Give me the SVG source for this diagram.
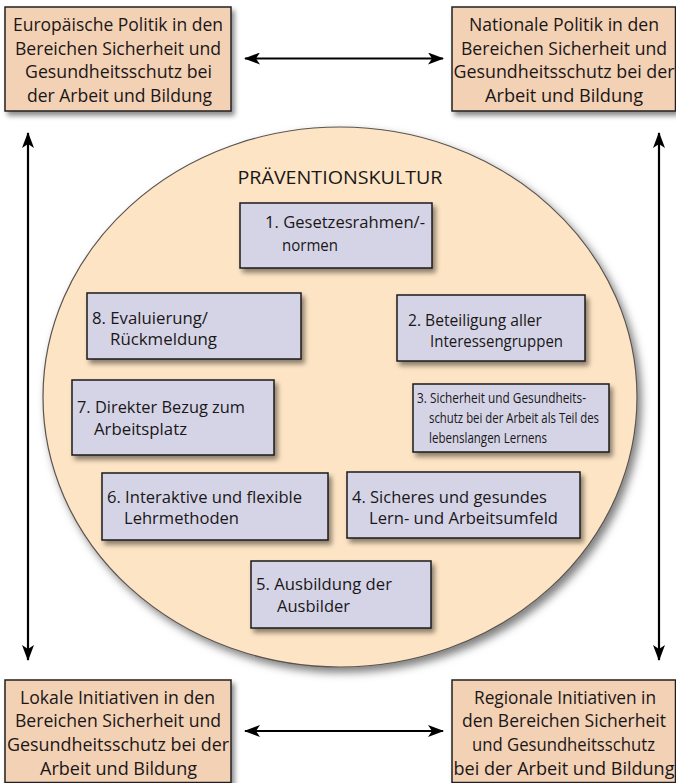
<svg xmlns="http://www.w3.org/2000/svg" width="676" height="783" viewBox="0 0 676 783">
<defs>
<style>
.outer{fill:#F3D1B5;stroke:#231f20;stroke-width:1.5}
.inner{fill:#D5D4E6;stroke:#1a1a1a;stroke-width:1.5}
.circ{fill:#FDE4C4;stroke:#5a5450;stroke-width:1.2}
.ot{font-family:"Open Sans","Liberation Sans",sans-serif;font-size:18px;fill:#1a1718}
.it{font-family:"Open Sans","Liberation Sans",sans-serif;font-size:17px;fill:#1a1718}
.st{font-family:"Open Sans","Liberation Sans",sans-serif;font-size:14.5px;fill:#1a1718}
.title{font-family:"Open Sans","Liberation Sans",sans-serif;font-size:19px;fill:#1a1718}
.conn{stroke:#000;stroke-width:2.2;fill:none;marker-start:url(#ah);marker-end:url(#ah)}
</style>
<filter id="sh" x="-10%" y="-10%" width="130%" height="140%">
<feDropShadow dx="3" dy="4" stdDeviation="2.5" flood-color="#000" flood-opacity="0.45"/>
</filter>
<filter id="shc" x="-10%" y="-10%" width="125%" height="125%">
<feDropShadow dx="4" dy="5" stdDeviation="4" flood-color="#000" flood-opacity="0.5"/>
</filter>
<marker id="ah" markerUnits="userSpaceOnUse" viewBox="0 0 16 12" markerWidth="16" markerHeight="12" refX="15" refY="6" orient="auto-start-reverse">
<path d="M0,0 L16,6 L0,12 L4,6 Z" fill="#000"/>
</marker>
</defs>

<g id="culture-circle">
<ellipse class="circ" cx="340" cy="397" rx="297" ry="270" filter="url(#shc)"/>
<text class="title" x="340" y="184" text-anchor="middle" textLength="205" lengthAdjust="spacingAndGlyphs">PRÄVENTIONSKULTUR</text>
</g>

<g id="connectors">
<line class="conn" x1="245" y1="58.5" x2="443" y2="58.5"/>
<line class="conn" x1="245" y1="731" x2="443" y2="731"/>
<line class="conn" x1="28" y1="133" x2="28" y2="660"/>
<line class="conn" x1="659" y1="133" x2="659" y2="660"/>
</g>

<g id="eu-policy">
<rect class="outer" x="5" y="7" width="226" height="104" filter="url(#sh)"/>
<text class="ot" x="13" y="31" textLength="210" lengthAdjust="spacingAndGlyphs">Europäische Politik in den</text>
<text class="ot" x="15" y="55" textLength="206" lengthAdjust="spacingAndGlyphs">Bereichen Sicherheit und</text>
<text class="ot" x="25" y="78" textLength="187" lengthAdjust="spacingAndGlyphs">Gesundheitsschutz bei</text>
<text class="ot" x="27" y="102" textLength="185" lengthAdjust="spacingAndGlyphs">der Arbeit und Bildung</text>
</g>

<g id="national-policy">
<rect class="outer" x="452" y="7" width="223.5" height="104" filter="url(#sh)"/>
<text class="ot" x="469" y="31" textLength="190" lengthAdjust="spacingAndGlyphs">Nationale Politik in den</text>
<text class="ot" x="461" y="55" textLength="206" lengthAdjust="spacingAndGlyphs">Bereichen Sicherheit und</text>
<text class="ot" x="453.5" y="78" textLength="221" lengthAdjust="spacingAndGlyphs">Gesundheitsschutz bei der</text>
<text class="ot" x="485" y="102" textLength="158" lengthAdjust="spacingAndGlyphs">Arbeit und Bildung</text>
</g>

<g id="local-initiatives">
<rect class="outer" x="5" y="680" width="226" height="102.5" filter="url(#sh)"/>
<text class="ot" x="20" y="704" textLength="195" lengthAdjust="spacingAndGlyphs">Lokale Initiativen in den</text>
<text class="ot" x="15" y="727" textLength="206" lengthAdjust="spacingAndGlyphs">Bereichen Sicherheit und</text>
<text class="ot" x="7" y="751" textLength="222" lengthAdjust="spacingAndGlyphs">Gesundheitsschutz bei der</text>
<text class="ot" x="40" y="775" textLength="157" lengthAdjust="spacingAndGlyphs">Arbeit und Bildung</text>
</g>

<g id="regional-initiatives">
<rect class="outer" x="452" y="680" width="223.5" height="102.5" filter="url(#sh)"/>
<text class="ot" x="474" y="704" textLength="182" lengthAdjust="spacingAndGlyphs">Regionale Initiativen in</text>
<text class="ot" x="462" y="727" textLength="204" lengthAdjust="spacingAndGlyphs">den Bereichen Sicherheit</text>
<text class="ot" x="472" y="751" textLength="183" lengthAdjust="spacingAndGlyphs">und Gesundheitsschutz</text>
<text class="ot" x="453.5" y="775" textLength="221" lengthAdjust="spacingAndGlyphs">bei der Arbeit und Bildung</text>
</g>

<g id="box1">
<rect class="inner" x="240" y="203" width="192" height="65" filter="url(#sh)"/>
<text class="it" x="265" y="228" textLength="160" lengthAdjust="spacingAndGlyphs">1. Gesetzesrahmen/-</text>
<text class="it" x="282" y="251" textLength="56" lengthAdjust="spacingAndGlyphs">normen</text>
</g>

<g id="box2">
<rect class="inner" x="397" y="295" width="188" height="66" filter="url(#sh)"/>
<text class="it" x="408" y="326" textLength="134" lengthAdjust="spacingAndGlyphs">2. Beteiligung aller</text>
<text class="it" x="430" y="347" textLength="133" lengthAdjust="spacingAndGlyphs">Interessengruppen</text>
</g>

<g id="box3">
<rect class="inner" x="413" y="384" width="196" height="68" filter="url(#sh)"/>
<text class="st" x="417" y="403" textLength="169" lengthAdjust="spacingAndGlyphs">3. Sicherheit und Gesundheits-</text>
<text class="st" x="429" y="423" textLength="170" lengthAdjust="spacingAndGlyphs">schutz bei der Arbeit als Teil des</text>
<text class="st" x="429" y="443" textLength="118" lengthAdjust="spacingAndGlyphs">lebenslangen Lernens</text>
</g>

<g id="box4">
<rect class="inner" x="347" y="472" width="233" height="66" filter="url(#sh)"/>
<text class="it" x="352" y="503" textLength="195" lengthAdjust="spacingAndGlyphs">4. Sicheres und gesundes</text>
<text class="it" x="369" y="524" textLength="189" lengthAdjust="spacingAndGlyphs">Lern- und Arbeitsumfeld</text>
</g>

<g id="box5">
<rect class="inner" x="251" y="561" width="180" height="67" filter="url(#sh)"/>
<text class="it" x="256" y="590" textLength="136" lengthAdjust="spacingAndGlyphs">5. Ausbildung der</text>
<text class="it" x="277" y="612" textLength="73" lengthAdjust="spacingAndGlyphs">Ausbilder</text>
</g>

<g id="box6">
<rect class="inner" x="102" y="473" width="226" height="67" filter="url(#sh)"/>
<text class="it" x="107" y="503" textLength="195" lengthAdjust="spacingAndGlyphs">6. Interaktive und flexible</text>
<text class="it" x="124" y="524" textLength="115" lengthAdjust="spacingAndGlyphs">Lehrmethoden</text>
</g>

<g id="box7">
<rect class="inner" x="72" y="380" width="202" height="75" filter="url(#sh)"/>
<text class="it" x="77" y="413" textLength="168" lengthAdjust="spacingAndGlyphs">7. Direkter Bezug zum</text>
<text class="it" x="94" y="435" textLength="93" lengthAdjust="spacingAndGlyphs">Arbeitsplatz</text>
</g>

<g id="box8">
<rect class="inner" x="87" y="293" width="214" height="66" filter="url(#sh)"/>
<text class="it" x="92" y="324" textLength="116" lengthAdjust="spacingAndGlyphs">8. Evaluierung/</text>
<text class="it" x="110" y="345" textLength="107" lengthAdjust="spacingAndGlyphs">Rückmeldung</text>
</g>
</svg>
